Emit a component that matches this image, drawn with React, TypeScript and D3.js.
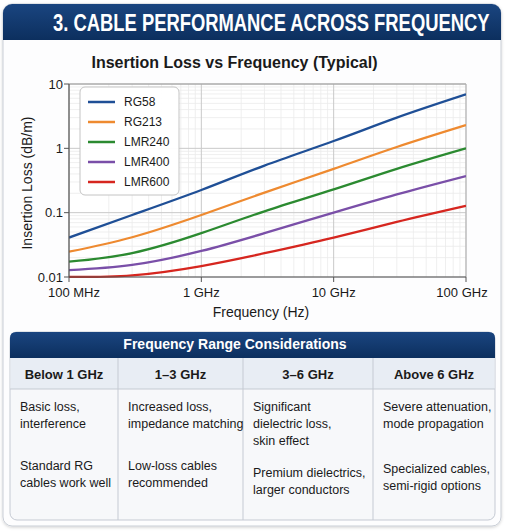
import * as d3 from 'd3';

// chart data
const freqs = [1e8, 3e8, 1e9, 3e9, 1e10, 3e10, 1e11];
const cableNames = ['RG58', 'RG213', 'LMR240', 'LMR400', 'LMR600'];
const rg58 = [0.041, 0.092, 0.225, 0.54, 1.3, 3.0, 6.9];
const rg213 = [0.0247, 0.0415, 0.092, 0.205, 0.48, 1.05, 2.3];
const lmr240 = [0.0173, 0.0235, 0.048, 0.105, 0.23, 0.48, 1.0];
const lmr400 = [0.0128, 0.0154, 0.0254, 0.048, 0.1, 0.192, 0.37];
const lmr600 = [0.0100, 0.0106, 0.0148, 0.0234, 0.041, 0.072, 0.128];
const cableColors = ['#1f4f96', '#ee8a30', '#2b8a30', '#7a4fa8', '#d6261f'];

const xTicks = [1e8, 1e9, 1e10, 1e11];
const xTickLabels = ['100 MHz', '1 GHz', '10 GHz', '100 GHz'];
const yTicks = [0.01, 0.1, 1, 10];
const yTickLabels = ['0.01', '0.1', '1', '10'];

// table content
const rangeHeads = ['Below 1 GHz', '1\u20133 GHz', '3\u20136 GHz', 'Above 6 GHz'];
const rangeEffects = [
  ['Basic loss,', 'interference'],
  ['Increased loss,', 'impedance matching'],
  ['Significant', 'dielectric loss,', 'skin effect'],
  ['Severe attenuation,', 'mode propagation'],
];
const rangeAdvice = [
  ['Standard RG', 'cables work well'],
  ['Low-loss cables', 'recommended'],
  ['Premium dielectrics,', 'larger conductors'],
  ['Specialized cables,', 'semi-rigid options'],
];

const W = 507;
const H = 531;
const FONT = "'Liberation Sans', Arial, Helvetica, sans-serif";

export default function App() {
  const series = [rg58, rg213, lmr240, lmr400, lmr600];

  const x = d3.scaleLog().domain([1e8, 1e11]).range([69, 466]);
  const y = d3.scaleLog().domain([0.01, 10]).range([277, 84]);

  const line = d3.line<[number, number]>()
    .x(d => x(d[0]))
    .y(d => y(d[1]))
    .curve(d3.curveNatural);

  // minor grid values 2..9 of each decade
  const minorX: number[] = [];
  for (let e = 8; e < 11; e++) for (let m = 2; m < 10; m++) minorX.push(m * 10 ** e);
  const minorY: number[] = [];
  for (let e = -2; e < 1; e++) for (let m = 2; m < 10; m++) minorY.push(m * 10 ** e);

  // table layout
  const colEdges = [10, 118, 243, 373, 495];
  const tTop = 332;
  const headBottom = 358;
  const colHeadBottom = 389;
  const tBottom = 520;

  return (
    <svg width={W} height={H} style={{ position: 'absolute', left: 0, top: 0 }} fontFamily={FONT}>
      <defs>
        <linearGradient id="banner" x1="0" x2="0" y1="0" y2="1">
          <stop offset="0" stopColor="#1a4580" />
          <stop offset="1" stopColor="#0c2f5e" />
        </linearGradient>
        <filter id="shadow" x="-5%" y="-5%" width="110%" height="110%">
          <feDropShadow dx="0" dy="1" stdDeviation="1.5" floodColor="#000" floodOpacity="0.18" />
        </filter>
        <clipPath id="card">
          <rect x={3} y={4} width={498} height={522} rx={9} />
        </clipPath>
        <clipPath id="plot">
          <rect x={69} y={84} width={397} height={194} />
        </clipPath>
      </defs>
      <rect width={W} height={H} fill="#fff" />

      {/* card */}
      <rect x={3} y={4} width={498} height={522} rx={9} fill="#fdfdfe" stroke="#c9ced6" filter="url(#shadow)" />
      <g clipPath="url(#card)">
        <rect x={3} y={4} width={498} height={36} fill="url(#banner)" />
      </g>
      {/* condensed banner heading */}
      <text transform="translate(53,31) scale(0.8,1)" fontSize={23} fontWeight="bold" fill="#fff">
        3. CABLE PERFORMANCE ACROSS FREQUENCY
      </text>

      {/* chart title */}
      <text x={234.5} y={68} textAnchor="middle" fontSize={16} fontWeight="bold" fill="#1a1a1a">
        Insertion Loss vs Frequency (Typical)
      </text>

      {/* plot background and grid */}
      <rect x={69} y={84} width={397} height={193} fill="#fff" />
      {minorX.map(v => (
        <line key={'mx' + v} x1={x(v)} x2={x(v)} y1={84} y2={277} stroke="#ebebeb" strokeWidth={0.8} />
      ))}
      {minorY.map(v => (
        <line key={'my' + v} x1={69} x2={466} y1={y(v)} y2={y(v)} stroke="#ebebeb" strokeWidth={0.8} />
      ))}
      {xTicks.map(v => (
        <line key={'gx' + v} x1={x(v)} x2={x(v)} y1={84} y2={277} stroke="#c9c9c9" strokeWidth={1} />
      ))}
      {yTicks.map(v => (
        <line key={'gy' + v} x1={69} x2={466} y1={y(v)} y2={y(v)} stroke="#c9c9c9" strokeWidth={1} />
      ))}
      <line x1={69} x2={466} y1={84} y2={84} stroke="#9a9a9a" />
      <line x1={466} x2={466} y1={84} y2={277} stroke="#b5b5b5" />

      {/* series */}
      <g clipPath="url(#plot)">
        {series.map((vals, i) => (
          <path key={cableNames[i]}
            d={line(freqs.map((f, j) => [f, vals[j]] as [number, number])) || ''}
            fill="none" stroke={cableColors[i]} strokeWidth={2.3} />
        ))}
      </g>

      {/* axes */}
      <line x1={69} x2={69} y1={84} y2={277} stroke="#555" strokeWidth={1.2} />
      <line x1={69} x2={466} y1={277} y2={277} stroke="#555" strokeWidth={1.2} />
      {yTicks.map((v, i) => (
        <g key={'yt' + v}>
          <line x1={64} x2={69} y1={y(v)} y2={y(v)} stroke="#555" />
          <text x={63} y={y(v) + 4.5} textAnchor="end" fontSize={13} fill="#1a1a1a">{yTickLabels[i]}</text>
        </g>
      ))}
      {xTicks.map((v, i) => (
        <g key={'xt' + v}>
          <line x1={x(v)} x2={x(v)} y1={277} y2={282} stroke="#555" />
          <text x={x(v) + (i === 0 ? 5 : i === xTicks.length - 1 ? -4 : 0)} y={297}
            textAnchor="middle" fontSize={13} fill="#1a1a1a">{xTickLabels[i]}</text>
        </g>
      ))}
      <text x={261} y={317} textAnchor="middle" fontSize={14} fill="#1a1a1a">Frequency (Hz)</text>
      <text transform="translate(32,183) rotate(-90)" textAnchor="middle" fontSize={14} fill="#1a1a1a">
        Insertion Loss (dB/m)
      </text>

      {/* legend */}
      <rect x={80} y={87} width={99} height={108} rx={5} fill="#fff" fillOpacity={0.95} stroke="#c4c4c4" />
      {cableNames.map((name, i) => (
        <g key={'lg' + name} transform={`translate(0,${102 + i * 20})`}>
          <line x1={88} x2={115} y1={0} y2={0} stroke={cableColors[i]} strokeWidth={2.5} />
          <text x={124} y={4.3} fontSize={12} fill="#1a1a1a">{name}</text>
        </g>
      ))}

      {/* table */}
      <rect x={colEdges[0]} y={tTop} width={colEdges[4] - colEdges[0]} height={tBottom - tTop} rx={7}
        fill="#f7f8fa" stroke="#c5cad3" />
      <path d={`M${colEdges[0]},${headBottom} V${tTop + 6} Q${colEdges[0]},${tTop} ${colEdges[0] + 6},${tTop} H${colEdges[4] - 6} Q${colEdges[4]},${tTop} ${colEdges[4]},${tTop + 6} V${headBottom} Z`}
        fill="url(#banner)" />
      <text x={235} y={349} textAnchor="middle" fontSize={14} fontWeight="bold" fill="#fff">
        Frequency Range Considerations
      </text>
      <rect x={colEdges[0] + 0.5} y={headBottom} width={colEdges[4] - colEdges[0] - 1} height={colHeadBottom - headBottom}
        fill="#e8edf4" />
      <line x1={colEdges[0]} x2={colEdges[4]} y1={colHeadBottom} y2={colHeadBottom} stroke="#c5cad3" />
      {colEdges.slice(1, 4).map(cx => (
        <line key={'cd' + cx} x1={cx} x2={cx} y1={headBottom} y2={tBottom} stroke="#c5cad3" />
      ))}
      {rangeHeads.map((h, i) => (
        <text key={'rh' + i} x={(colEdges[i] + colEdges[i + 1]) / 2} y={379} textAnchor="middle"
          fontSize={13} fontWeight="bold" fill="#1a1a1a">{h}</text>
      ))}
      {rangeEffects.map((lines, i) => (
        <text key={'re' + i} x={colEdges[i] + 10} y={411} fontSize={12.5} fill="#1a1a1a">
          {lines.map((l, k) => (
            <tspan key={k} x={colEdges[i] + 10} dy={k === 0 ? 0 : 17}>{l}</tspan>
          ))}
        </text>
      ))}
      {rangeAdvice.map((lines, i) => {
        const top = [470, 470, 476.5, 473][i];
        return (
          <text key={'ra' + i} x={colEdges[i] + 10} y={top} fontSize={12.5} fill="#1a1a1a">
            {lines.map((l, k) => (
              <tspan key={k} x={colEdges[i] + 10} dy={k === 0 ? 0 : 17}>{l}</tspan>
            ))}
          </text>
        );
      })}
    </svg>
  );
}
